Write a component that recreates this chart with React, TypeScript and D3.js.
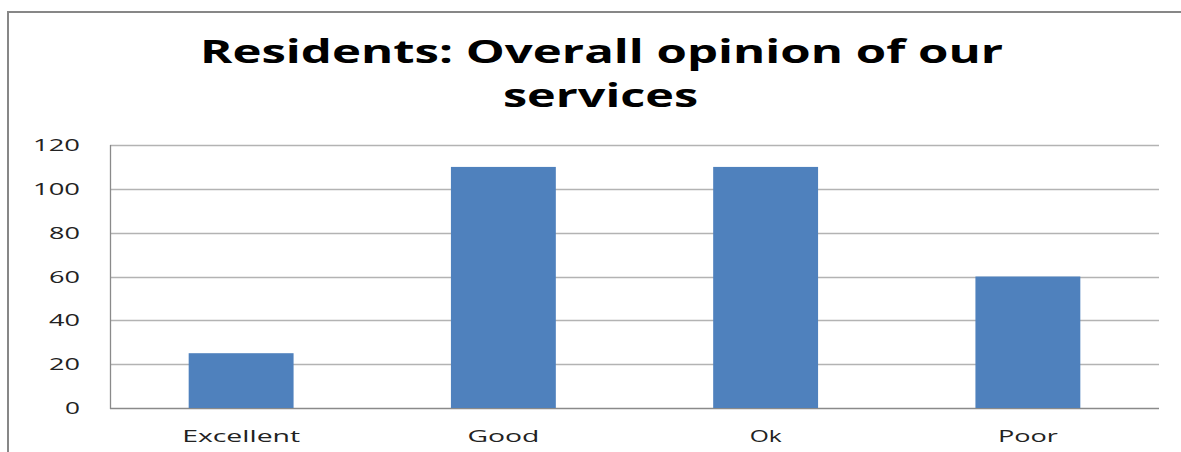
import React from "react";
import * as d3 from "d3";

const categories = ["Excellent", "Good", "Ok", "Poor"];
const values = [25, 110, 110, 60];
const yTicks = [0, 20, 40, 60, 80, 100, 120];
const titleLines = ["Residents: Overall opinion of our", "services"];

const W = 1181;
const H = 452;
const plot = { left: 110, right: 1159, top: 145, bottom: 408 };

export default function App() {
  const x = d3
    .scaleBand<string>()
    .domain(categories)
    .range([plot.left, plot.right])
    .paddingInner(0.6)
    .paddingOuter(0.3);
  const y = d3.scaleLinear().domain([0, 120]).range([plot.bottom, plot.top]);
  const font = "'Open Sans', 'DejaVu Sans', sans-serif";
  const tickW: Record<number, number> = { 0: 15, 20: 31, 40: 31, 60: 31, 80: 31, 100: 47, 120: 47 };
  const catW: Record<string, number> = { Excellent: 118, Good: 72, Ok: 32, Poor: 60 };

  return (
    <svg
      width={W}
      height={H}
      style={{ position: "absolute", left: 0, top: 0, background: "#fff" }}
    >
      <rect x={0} y={0} width={W} height={H} fill="#fff" />
      {/* outer frame */}
      <path d={`M8,${H + 5} V12 H${W + 5}`} fill="none" stroke="#878787" strokeWidth={2} />
      {/* title */}
      <text
        x={200}
        y={63}
        fontFamily={font}
        fontWeight={700}
        fontSize={32}
        fill="#000"
        textLength={803}
        lengthAdjust="spacingAndGlyphs"
      >
        {titleLines[0]}
      </text>
      <text
        x={503}
        y={107}
        fontFamily={font}
        fontWeight={700}
        fontSize={32}
        fill="#000"
        textLength={195}
        lengthAdjust="spacingAndGlyphs"
      >
        {titleLines[1]}
      </text>
      {/* gridlines */}
      {yTicks.map((t) => (
        <line
          key={"g" + t}
          x1={plot.left}
          x2={plot.right}
          y1={Math.round(y(t)) + 0.5}
          y2={Math.round(y(t)) + 0.5}
          stroke={t === 0 ? "#8a8a8a" : "#b3b3b3"}
          strokeWidth={1.3}
        />
      ))}
      {/* left axis line */}
      <line
        x1={plot.left + 0.5}
        x2={plot.left + 0.5}
        y1={plot.top}
        y2={plot.bottom + 1}
        stroke="#8a8a8a"
        strokeWidth={1.3}
      />
      {/* y tick labels */}
      {yTicks.map((t) => (
        <text
          key={"t" + t}
          x={80 - tickW[t]}
          y={y(t) + 6}
          fontFamily={font}
          fontSize={17}
          fill="#222"
          textLength={tickW[t]}
          lengthAdjust="spacingAndGlyphs"
        >
          {t}
        </text>
      ))}
      {/* bars */}
      {categories.map((c, i) => (
        <rect
          key={c}
          x={x(c)}
          y={y(values[i])}
          width={x.bandwidth()}
          height={y(0) - y(values[i])}
          fill="#4F81BD"
        />
      ))}
      {/* category labels */}
      {categories.map((c) => (
        <text
          key={"c" + c}
          x={(x(c) as number) + x.bandwidth() / 2 - catW[c] / 2}
          y={442}
          fontFamily={font}
          fontSize={17}
          fill="#222"
          textLength={catW[c]}
          lengthAdjust="spacingAndGlyphs"
        >
          {c}
        </text>
      ))}
    </svg>
  );
}
